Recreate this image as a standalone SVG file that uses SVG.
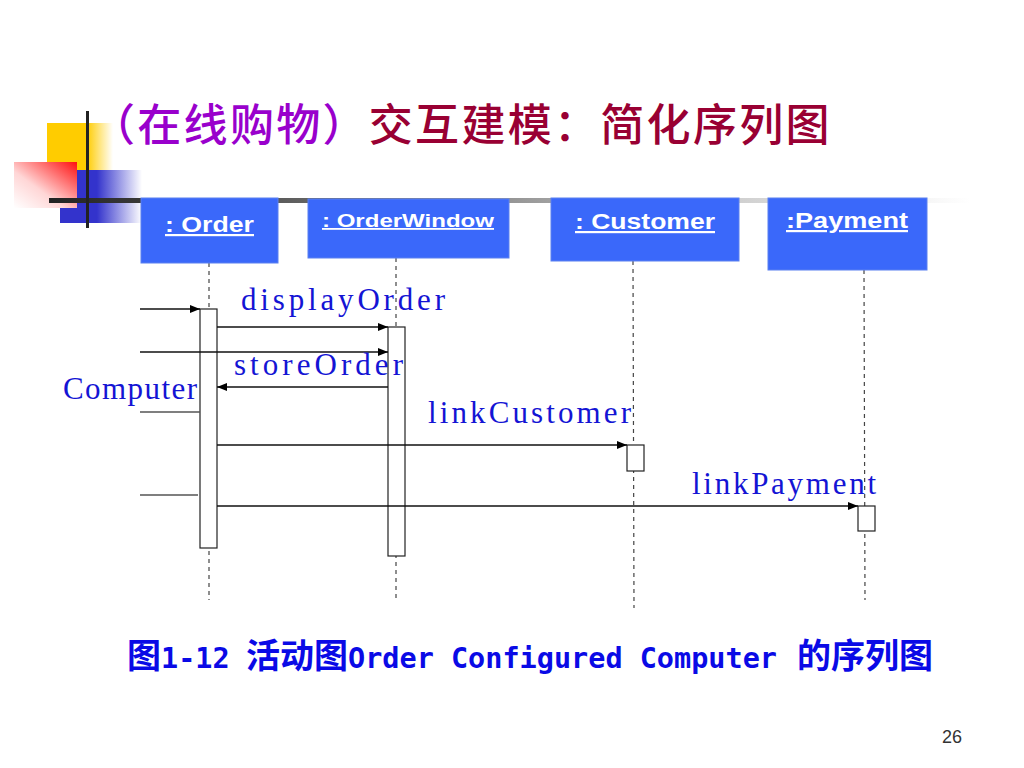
<svg xmlns="http://www.w3.org/2000/svg" width="1024" height="768" viewBox="0 0 1024 768">
<style>
.obj{fill:#3a68fa;stroke:#5a80f0;stroke-width:1}
.objt{fill:#fff;font-family:"Liberation Sans",Arial,sans-serif;font-weight:bold;text-decoration:underline}
.life{stroke:#444;stroke-width:1.2;stroke-dasharray:4,4;fill:none}
.act{fill:#fff;stroke:#222;stroke-width:1.2}
.msg{stroke:#111;stroke-width:1.3;fill:none}
.lbl{fill:#1414d4;font-family:"Liberation Serif","Times New Roman",serif;font-size:31px}
.cap{fill:#0a0ae6;font-weight:bold}
</style>
<defs>
<marker id="ah" markerWidth="10" markerHeight="10" refX="10" refY="5" orient="auto" markerUnits="userSpaceOnUse">
<path d="M0,1 L10,5 L0,9 Z" fill="#000"/>
</marker>
<linearGradient id="barG" gradientUnits="userSpaceOnUse" x1="50" y1="0" x2="970" y2="0">
<stop offset="0" stop-color="#222"/>
<stop offset="0.45" stop-color="#8a8a8a"/>
<stop offset="0.75" stop-color="#d0d0d0"/>
<stop offset="1" stop-color="#fff"/>
</linearGradient>
<linearGradient id="yelG" x1="0" y1="0" x2="1" y2="0">
<stop offset="0" stop-color="#ffcc00"/>
<stop offset="0.6" stop-color="#ffcc00"/>
<stop offset="1" stop-color="#ffcc00" stop-opacity="0"/>
</linearGradient>
<linearGradient id="bluG" x1="0" y1="0" x2="1" y2="0">
<stop offset="0" stop-color="#3333cc"/>
<stop offset="0.45" stop-color="#3333cc"/>
<stop offset="1" stop-color="#3333cc" stop-opacity="0"/>
</linearGradient>
<linearGradient id="redG" x1="1" y1="0" x2="0" y2="1">
<stop offset="0" stop-color="#ff1010"/>
<stop offset="0.6" stop-color="#ffd6d6"/>
<stop offset="1" stop-color="#ffffff"/>
</linearGradient>
</defs>

<g id="decoration">
<rect x="47" y="123" width="66" height="47" fill="url(#yelG)"/>
<rect x="60" y="170" width="82" height="53" fill="url(#bluG)"/>
<rect x="14" y="162" width="63" height="46" fill="url(#redG)"/>
<rect x="49" y="198" width="921" height="5" fill="url(#barG)"/>
<rect x="86" y="111" width="3" height="117" fill="#222"/>
</g>

<g id="title" font-family="'Noto Sans CJK SC','Noto Sans CJK JP',sans-serif" font-size="44" font-weight="500" letter-spacing="2.3">
<text x="91" y="141"><tspan fill="#9900cc">（在线购物）</tspan><tspan fill="#990033">交互建模：简化序列图</tspan></text>
</g>

<g id="lifelines">
<line class="life" x1="209" y1="263" x2="209" y2="600"/>
<line class="life" x1="396" y1="258" x2="396" y2="600"/>
<line class="life" x1="633" y1="261" x2="634" y2="608"/>
<line class="life" x1="864" y1="270" x2="865" y2="600"/>
</g>

<g id="order">
<rect class="obj" x="141" y="198" width="137" height="65"/>
<text class="objt" x="165" y="232" font-size="22" textLength="89" lengthAdjust="spacingAndGlyphs">: Order</text>
</g>
<g id="orderwindow">
<rect class="obj" x="308" y="199" width="201" height="59"/>
<text class="objt" x="322" y="227" font-size="18" textLength="172" lengthAdjust="spacingAndGlyphs">: OrderWindow</text>
</g>
<g id="customer">
<rect class="obj" x="551" y="198" width="188" height="63"/>
<text class="objt" x="575" y="229" font-size="22" textLength="140" lengthAdjust="spacingAndGlyphs">: Customer</text>
</g>
<g id="payment">
<rect class="obj" x="768" y="198" width="159" height="72"/>
<text class="objt" x="786" y="228" font-size="22" textLength="122" lengthAdjust="spacingAndGlyphs">:Payment</text>
</g>

<g id="activations">
<rect class="act" x="200" y="309" width="17" height="239"/>
<rect class="act" x="388" y="327" width="17" height="229"/>
<rect class="act" x="627" y="445" width="17" height="26"/>
<rect class="act" x="858" y="506" width="17" height="25"/>
</g>

<g id="connectors">
<line class="msg" x1="140" y1="309" x2="200" y2="309" marker-end="url(#ah)"/>
<line class="msg" x1="217" y1="327" x2="388" y2="327" marker-end="url(#ah)"/>
<line class="msg" x1="140" y1="352" x2="388" y2="352" marker-end="url(#ah)"/>
<line class="msg" x1="388" y1="387" x2="217" y2="387" marker-end="url(#ah)"/>
<line class="msg" x1="140" y1="412" x2="200" y2="412" style="stroke:#555"/>
<line class="msg" x1="217" y1="445" x2="627" y2="445" marker-end="url(#ah)"/>
<line class="msg" x1="140" y1="495" x2="198" y2="495" style="stroke:#555"/>
<line class="msg" x1="217" y1="506" x2="858" y2="506" marker-end="url(#ah)"/>
</g>

<g id="labels">
<text class="lbl" x="241" y="310" textLength="204" lengthAdjust="spacing">displayOrder</text>
<text class="lbl" x="234" y="375" textLength="169" lengthAdjust="spacing">storeOrder</text>
<text class="lbl" x="63" y="399" textLength="134" lengthAdjust="spacing">Computer</text>
<text class="lbl" x="428" y="423" textLength="203" lengthAdjust="spacing">linkCustomer</text>
<text class="lbl" x="692" y="494" textLength="184" lengthAdjust="spacing">linkPayment</text>
</g>

<g id="caption">
<text class="cap" y="668" font-family="'Noto Sans CJK SC','Noto Sans CJK JP',sans-serif" font-size="34"><tspan x="127">图</tspan><tspan x="246">活动图</tspan><tspan x="797">的序列图</tspan></text>
<text class="cap" y="668" font-family="'DejaVu Sans Mono','Liberation Mono',monospace" font-size="28.5"><tspan x="161">1-12</tspan><tspan x="348">Order Configured Computer</tspan></text>
</g>

<g id="page">
<text x="962" y="743" text-anchor="end" font-family="'Liberation Sans',Arial,sans-serif" font-size="18" fill="#333">26</text>
</g>
</svg>
